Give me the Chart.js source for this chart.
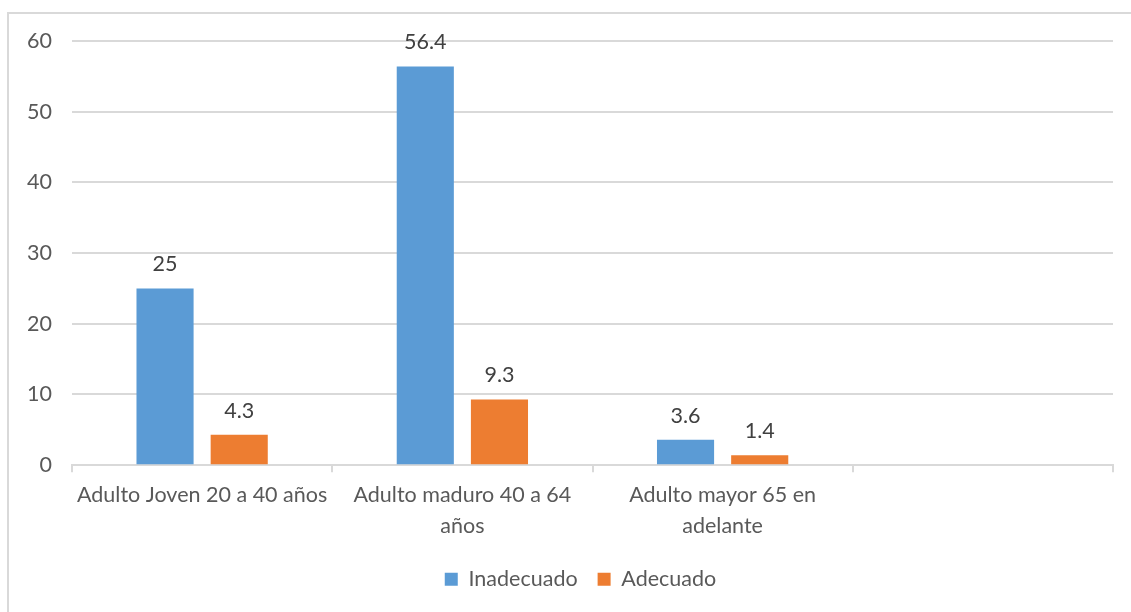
<!DOCTYPE html>
<html>
<head>
<meta charset="utf-8">
<script src="https://cdn.jsdelivr.net/npm/chart.js@4"></script>
<style>
  html, body { margin: 0; padding: 0; background: #fff; overflow: hidden; }
  #frame { position: absolute; left: 7px; top: 12px; width: 1140px; height: 620px; border: 2px solid #d9d9d9; box-sizing: border-box; }
  #wrap { position: absolute; left: 0; top: 0; width: 1131px; height: 612px; }
</style>
</head>
<body>
<div id="frame"></div>
<div id="wrap"><canvas id="edadChart" width="1131" height="612"></canvas></div>
<script>
var categories = ['Adulto Joven 20 a 40 años', ['Adulto maduro 40 a 64', 'años'], ['Adulto mayor 65 en', 'adelante'], ''];
var inadecuado = [25, 56.4, 3.6, null];
var adecuado = [4.3, 9.3, 1.4, null];
var yTicks = [0, 10, 20, 30, 40, 50, 60];

var fontFamily = 'Lato, "Open Sans", sans-serif';
var fontSize = 21.5;

// writes each bar's value above it
var valueLabels = {
  id: 'valueLabels',
  afterDatasetsDraw: function(chart) {
    var ctx = chart.ctx;
    ctx.save();
    ctx.font = fontSize + 'px ' + fontFamily;
    ctx.fillStyle = '#404040';
    ctx.textAlign = 'center';
    ctx.textBaseline = 'middle';
    chart.data.datasets.forEach(function(ds, i) {
      chart.getDatasetMeta(i).data.forEach(function(bar, j) {
        if (ds.data[j] == null) return;
        ctx.fillText(String(ds.data[j]), bar.x, bar.y - 24);
      });
    });
    ctx.restore();
  }
};

// legend sits a little left of the plot area's centre
var legendShift = {
  id: 'legendShift',
  afterLayout: function(chart) {
    var lg = chart.legend;
    var dx = (chart.chartArea.left + chart.chartArea.right) / 2 - 12 - (lg.left + lg.right) / 2;
    lg.left += dx;
    lg.right += dx;
  }
};

var ctx = document.getElementById('edadChart').getContext('2d');
var edadChart = new Chart(ctx, {
  type: 'bar',
  data: {
    labels: categories,
    datasets: [{
      label: 'Inadecuado',
      data: inadecuado,
      backgroundColor: '#5b9bd5',
      categoryPercentage: 0.57,
      barPercentage: 0.77
    }, {
      label: 'Adecuado',
      data: adecuado,
      backgroundColor: '#ed7d31',
      categoryPercentage: 0.57,
      barPercentage: 0.77
    }]
  },
  plugins: [valueLabels, legendShift],
  options: {
    responsive: false,
    animation: false,
    layout: { padding: { left: 10, right: 18, top: 41, bottom: 12 } },
    plugins: {
      tooltip: { enabled: false },
      legend: {
        position: 'bottom',
        labels: {
          color: '#595959',
          font: { family: fontFamily, size: fontSize },
          boxWidth: 13,
          boxHeight: 13,
          padding: 20
        }
      }
    },
    scales: {
      x: {
        grid: { drawOnChartArea: false, color: '#d9d9d9', lineWidth: 2, tickLength: 7, offset: true },
        border: { color: '#d9d9d9', width: 2 },
        ticks: {
          color: '#595959',
          font: { family: fontFamily, size: fontSize, lineHeight: 1.45 },
          maxRotation: 0,
          autoSkip: false,
          padding: 7
        }
      },
      y: {
        min: 0,
        max: 60,
        afterBuildTicks: function(scale) {
          scale.ticks = yTicks.map(function(v) { return { value: v }; });
        },
        afterFit: function(scale) { scale.width = 62; },
        grid: { color: '#d9d9d9', lineWidth: 2, drawTicks: false },
        border: { display: false },
        ticks: {
          color: '#595959',
          font: { family: fontFamily, size: fontSize },
          padding: 20
        }
      }
    }
  }
});
</script>
</body>
</html>
